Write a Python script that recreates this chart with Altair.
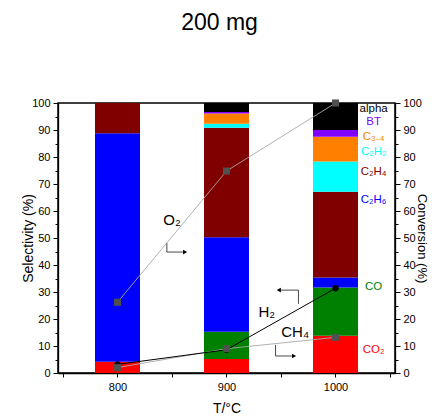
import altair as alt
import pandas as pd

# ---- data ----
temps = [800, 900, 1000]
species = ["CO2", "CO", "C2H6", "C2H4", "C2H2", "C3-4", "BT", "alpha"]
species_label = ["CO₂", "CO", "C₂H₆", "C₂H₄", "C₂H₂", "C₃₋₄", "BT", "alpha"]
species_color = ["#FF0000", "#008000", "#0000FF", "#800000", "#00FFFF", "#FF8000", "#8000FF", "#000000"]
sel_800 = [4.2, 0.0, 84.6, 11.2, 0.0, 0.0, 0.0, 0.0]
sel_900 = [5.2, 10.1, 35.0, 40.5, 1.5, 3.8, 0.6, 3.3]
sel_1000 = [13.8, 17.9, 3.7, 31.7, 11.2, 9.2, 2.5, 10.0]

conv_O2 = [26.2, 74.8, 100.0]
conv_H2 = [3.2, 8.6, 31.4]
conv_CH4 = [2.0, 9.0, 13.2]

# species label placement (data coords)
lab_x = [1035] * 8
lab_y = [8.5, 31.9, 64.0, 74.4, 81.9, 87.4, 92.8, 97.6]

# annotation texts
ann_text = ["O₂", "H₂", "CH₄"]
ann_x = [850, 937, 963]
ann_y = [56.7, 22.6, 15.2]

# arrow segments
seg_x = [845.3, 845.3, 966, 966, 945, 945]
seg_y = [48.1, 44.8, 25.6, 30.7, 10.4, 6.3]
seg_x2 = [845.3, 860, 966, 950, 945, 960]
seg_y2 = [44.8, 44.8, 30.7, 30.7, 6.3, 6.3]
head_x = [862, 948, 962]
head_y = [44.8, 30.7, 6.3]
head_shape = ["triangle-right", "triangle-left", "triangle-right"]

# ---- tables ----
rows = []
for t, vals in zip(temps, [sel_800, sel_900, sel_1000]):
    for i, (s, v) in enumerate(zip(species, vals)):
        rows.append({"temp": t, "species": s, "order": i, "sel": v})
bars_df = pd.DataFrame(rows)

conv_df = pd.DataFrame({"temp": temps, "O2": conv_O2, "H2": conv_H2, "CH4": conv_CH4})
lab_df = pd.DataFrame({"x": lab_x, "y": lab_y, "label": species_label, "color": species_color})
ann_df = pd.DataFrame({"x": ann_x, "y": ann_y, "label": ann_text})
seg_df = pd.DataFrame({"x": seg_x, "y": seg_y, "x2": seg_x2, "y2": seg_y2})
head_df = pd.DataFrame({"x": head_x, "y": head_y, "shape": head_shape})

FONT = "Liberation Sans"
xscale = alt.Scale(domain=[750, 1050], nice=False, zero=False)
yscale = alt.Scale(domain=[0, 100], nice=False)

minor_tick = {"condition": {"test": "datum.value % 10 == 0", "value": 5}, "value": 3}

x_axis = alt.Axis(
    title="T/°C", values=[750, 800, 850, 900, 950, 1000, 1050],
    labelExpr="(datum.value == 800 || datum.value == 900 || datum.value == 1000) ? datum.value : ''",
    tickSize=4, titlePadding=9, labelPadding=4,
)
y_left = alt.Axis(
    title="Selectivity (%)", orient="left", values=list(range(0, 101, 5)),
    labelExpr="datum.value % 10 == 0 ? datum.value : ''", tickSize=minor_tick,
    titlePadding=-4, labelPadding=3,
)
y_right = alt.Axis(
    title="Conversion (%)", orient="right", values=list(range(0, 101, 5)),
    labelExpr="datum.value % 10 == 0 ? datum.value : ''", tickSize=minor_tick,
    titlePadding=-7, labelPadding=3, titleFontSize=13,
)

bars = alt.Chart(bars_df).mark_bar(width=45).encode(
    x=alt.X("temp:Q", scale=xscale, axis=x_axis),
    y=alt.Y("sel:Q", scale=yscale, stack="zero", axis=y_left),
    color=alt.Color("species:N", scale=alt.Scale(domain=species, range=species_color), legend=None),
    order=alt.Order("order:Q"),
)

xn = alt.X("temp:Q", scale=xscale, axis=None)

o2_line = alt.Chart(conv_df).mark_line(color="#a8a8a8", strokeWidth=0.9).encode(
    x=xn, y=alt.Y("O2:Q", scale=yscale, axis=y_right))
ch4_line = alt.Chart(conv_df).mark_line(color="#a8a8a8", strokeWidth=0.9).encode(
    x=xn, y=alt.Y("CH4:Q", scale=yscale, axis=None))
h2_line = alt.Chart(conv_df).mark_line(color="#000000", strokeWidth=1).encode(
    x=xn, y=alt.Y("H2:Q", scale=yscale, axis=None))
h2_pts = alt.Chart(conv_df).mark_point(shape="circle", filled=True, color="#000000", size=40, opacity=1).encode(
    x=xn, y=alt.Y("H2:Q", scale=yscale, axis=None))
o2_pts = alt.Chart(conv_df).mark_point(shape="square", filled=True, color="#505050", size=50, opacity=1).encode(
    x=xn, y=alt.Y("O2:Q", scale=yscale, axis=None))
ch4_pts = alt.Chart(conv_df).mark_point(shape="square", filled=True, color="#505050", size=50, opacity=1).encode(
    x=xn, y=alt.Y("CH4:Q", scale=yscale, axis=None))

segs = alt.Chart(seg_df).mark_rule(color="#333333", strokeWidth=0.9).encode(
    x=alt.X("x:Q", scale=xscale, axis=None), y=alt.Y("y:Q", scale=yscale, axis=None),
    x2="x2:Q", y2="y2:Q")
heads = alt.Chart(head_df).mark_point(filled=True, color="#000000", size=22, opacity=1).encode(
    x=alt.X("x:Q", scale=xscale, axis=None), y=alt.Y("y:Q", scale=yscale, axis=None),
    shape=alt.Shape("shape:N", scale=None))

ann = alt.Chart(ann_df).mark_text(font=FONT, fontSize=15, color="#000000").encode(
    x=alt.X("x:Q", scale=xscale, axis=None), y=alt.Y("y:Q", scale=yscale, axis=None), text="label:N")
labs = alt.Chart(lab_df).mark_text(font=FONT, fontSize=11.5).encode(
    x=alt.X("x:Q", scale=xscale, axis=None), y=alt.Y("y:Q", scale=yscale, axis=None),
    text="label:N", color=alt.Color("color:N", scale=None))

chart = alt.layer(
    bars, o2_line, ch4_line, h2_line, h2_pts, o2_pts, ch4_pts, segs, heads, ann, labs
).resolve_axis(x="independent", y="independent").properties(
    width=337, height=270,
    autosize=alt.AutoSizeParams(type="none"),
    padding={"left": 50, "top": 95, "right": 35, "bottom": 43},
    title=alt.TitleParams("200 mg", font="Liberation Sans", fontSize=23, fontWeight="normal",
                          anchor="middle", dx=-7, offset=62, color="#000000"),
).configure_view(stroke="#000000", strokeWidth=1.5).configure_axis(
    domainColor="#000000", domainWidth=1.3, tickColor="#000000", tickWidth=1,
    labelFont=FONT, labelFontSize=11, labelColor="#000000",
    titleFont=FONT, titleFontSize=14, titleFontWeight="normal", titleColor="#000000",
    grid=False,
)

chart.save("out.html", embed_options={"renderer": "svg", "actions": False})
